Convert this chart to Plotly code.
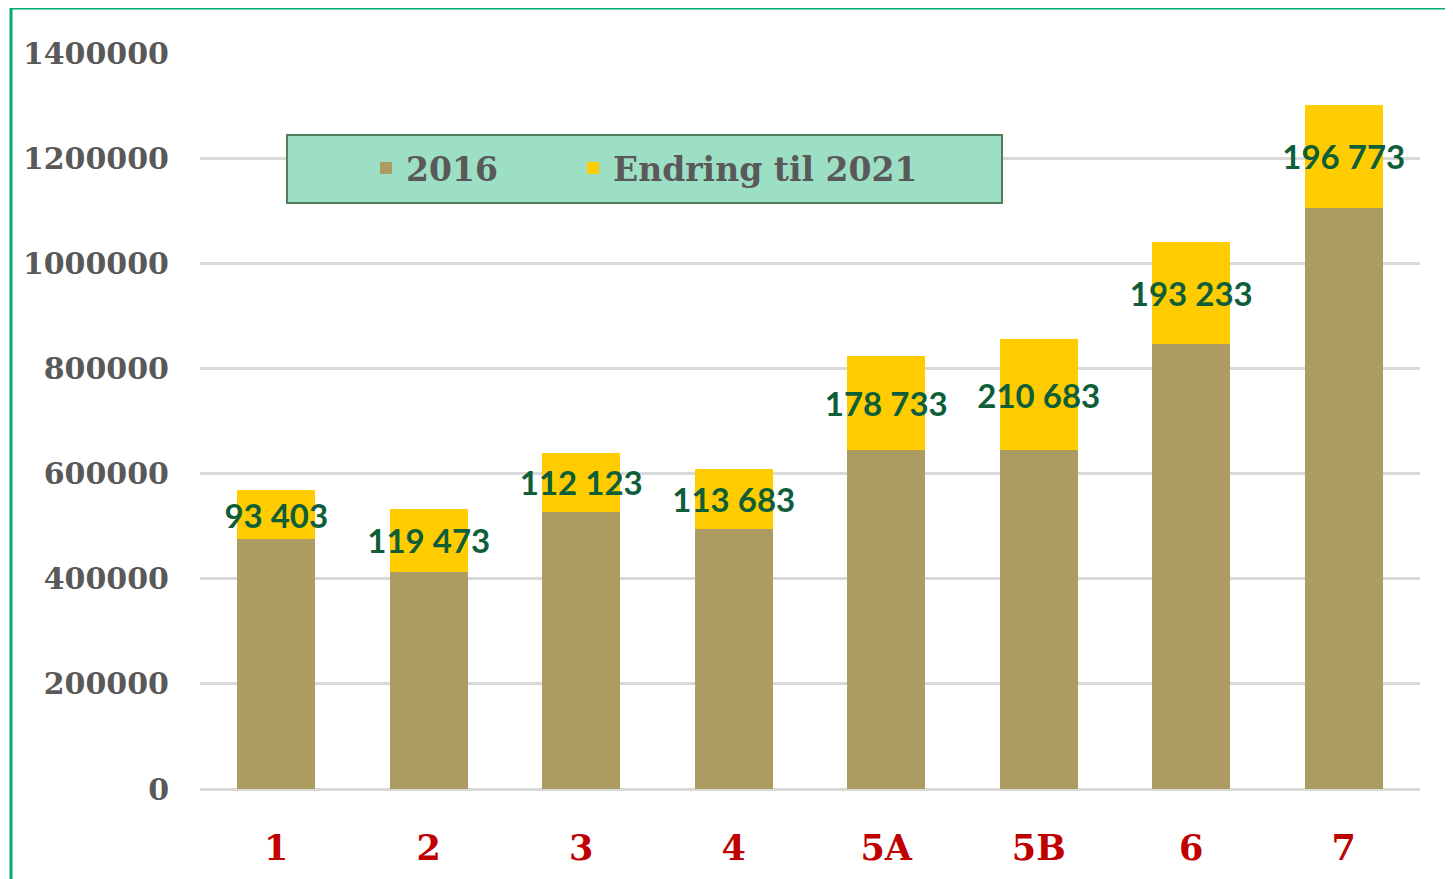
import plotly.graph_objects as go

categories = ["1", "2", "3", "4", "5A", "5B", "6", "7"]
values_2016 = [475000, 413000, 527000, 494600, 644900, 644900, 846500, 1105200]
change_to_2021 = [93403, 119473, 112123, 113683, 178733, 210683, 193233, 196773]
y_ticks = [0, 200000, 400000, 600000, 800000, 1000000, 1200000, 1400000]

OLIVE = "#AC9C62"
YELLOW = "#FFCC00"
LABEL_GREEN = "#0E5E3A"
GRID = "#D9D9D9"

change_text = [f"{v:,}".replace(",", " ") for v in change_to_2021]

LEGEND_FONT = dict(family="DejaVu Serif", size=33, color="#595959", weight="bold")

fig = go.Figure()
fig.add_trace(go.Bar(
    x=categories, y=values_2016, name="2016",
    marker=dict(color=OLIVE, line=dict(width=0)),
    legend="legend",
))
fig.add_trace(go.Bar(
    x=categories, y=change_to_2021, name="Endring til 2021",
    marker=dict(color=YELLOW, line=dict(width=0)),
    text=change_text, textposition="inside", insidetextanchor="middle",
    textangle=0, constraintext="none",
    textfont=dict(family="Lato", size=33, color=LABEL_GREEN, weight="bold"),
    legend="legend2",
))

# page is offset by the 8px body margin
W, H = 1445, 871
L, R, T, B = 192, 33, 45, 90
pw, ph = W - L - R, H - T - B


def px_x(p):
    """page pixel x -> paper fraction"""
    return (p - 200) / pw


def px_y(p):
    """page pixel y -> paper fraction"""
    return (789 - p) / ph


fig.update_layout(
    width=W, height=H,
    margin=dict(l=L, r=R, t=T, b=B),
    barmode="stack", bargap=0.49,
    plot_bgcolor="white", paper_bgcolor="white",
    showlegend=True,
    legend=dict(
        orientation="h", x=px_x(366), xanchor="left", y=px_y(168), yanchor="middle",
        bgcolor="rgba(0,0,0,0)", borderwidth=0, font=LEGEND_FONT,
    ),
    legend2=dict(
        orientation="h", x=px_x(573), xanchor="left", y=px_y(168), yanchor="middle",
        bgcolor="rgba(0,0,0,0)", borderwidth=0, font=LEGEND_FONT,
    ),
    xaxis=dict(
        type="category", showgrid=False, showline=False, zeroline=False,
        tickfont=dict(family="DejaVu Serif", size=35, color="#C00000", weight="bold"),
        ticks="", ticklabelstandoff=35,
    ),
    yaxis=dict(
        range=[0, 1400000], tickvals=y_ticks, tickformat="d",
        showgrid=True, gridcolor=GRID, gridwidth=2.5,
        zeroline=True, zerolinecolor=GRID, zerolinewidth=2.5,
        showline=False, ticks="",
        tickfont=dict(family="DejaVu Serif", size=30, color="#595959", weight="bold"),
        ticklabelstandoff=30,
    ),
    shapes=[
        dict(type="rect", xref="paper", yref="paper",
             x0=px_x(11), x1=px_x(1520), y0=px_y(960), y1=px_y(8),
             line=dict(color="#00AD6A", width=3), fillcolor="rgba(0,0,0,0)", layer="below"),
        dict(type="rect", xref="paper", yref="paper",
             x0=px_x(287), x1=px_x(1002), y0=px_y(203), y1=px_y(135),
             line=dict(color="#4F7F5A", width=2), fillcolor="#9DDFC5", layer="above"),
    ],
)

fig.write_html("out.html")
